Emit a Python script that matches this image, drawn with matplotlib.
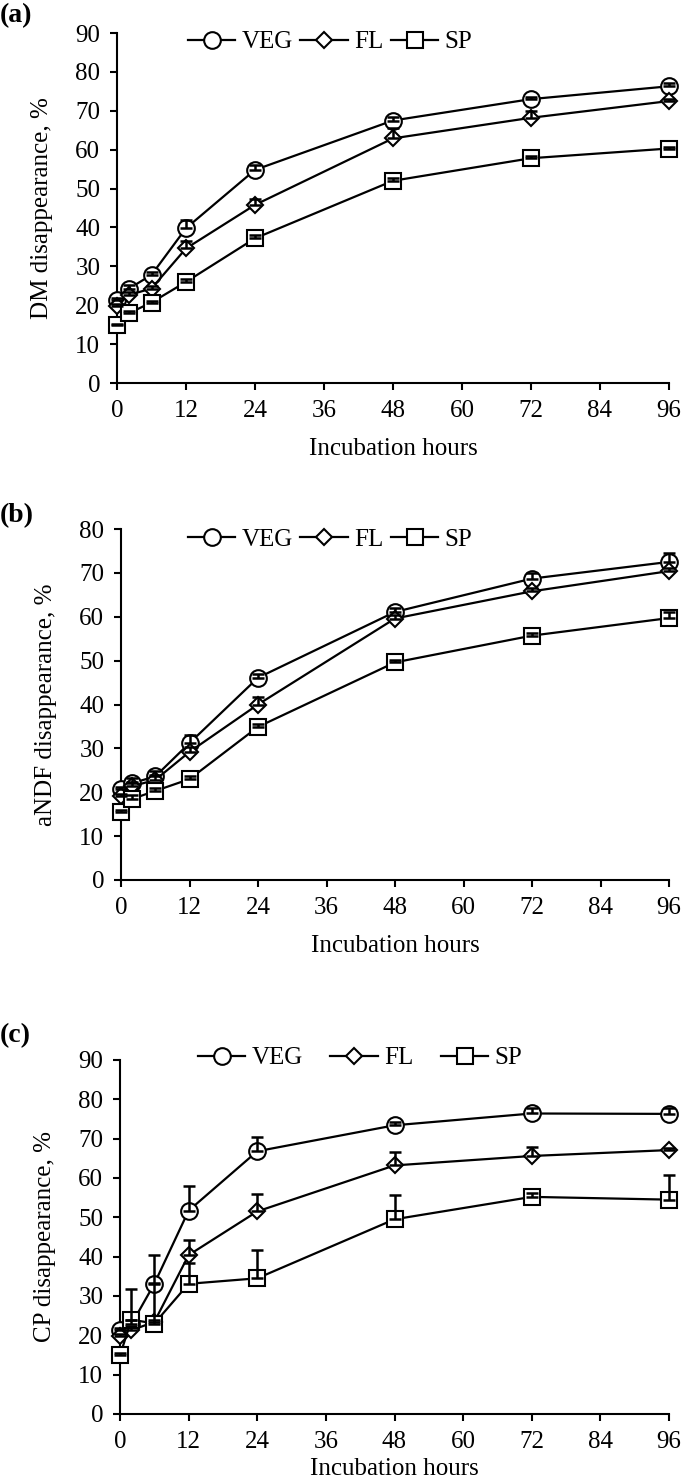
import numpy as np
import matplotlib.pyplot as plt

plt.rcParams['font.family'] = ['Liberation Serif', 'DejaVu Serif']

hours = [0, 2, 6, 12, 24, 48, 72, 96]
series_names = ['VEG', 'FL', 'SP']

# (a) DM disappearance, %
dm_veg = [21.3, 24.2, 27.8, 39.8, 54.8, 67.5, 73.0, 76.3]
dm_fl = [19.8, 22.6, 24.3, 34.6, 45.8, 62.9, 68.2, 72.5]
dm_sp = [14.8, 17.9, 20.7, 26.0, 37.2, 52.0, 57.8, 60.3]
dm_veg_err = [0.5, 1.0, 0.8, 2.0, 1.2, 0.8, 0.6, 0.8]
dm_fl_err = [0.4, 0.8, 0.6, 1.8, 1.5, 2.6, 1.8, 0.6]
dm_sp_err = [0.3, 0.5, 0.5, 0.8, 0.8, 0.8, 0.7, 0.5]

# (b) aNDF disappearance, %
ndf_veg = [20.8, 22.1, 23.6, 31.2, 46.1, 61.1, 68.7, 72.5]
ndf_fl = [19.2, 21.4, 22.8, 29.2, 40.0, 59.6, 65.8, 70.4]
ndf_sp = [15.6, 18.5, 20.3, 23.0, 34.9, 49.6, 55.7, 59.7]
ndf_veg_err = [0.5, 1.2, 1.2, 1.8, 0.8, 1.0, 1.3, 2.0]
ndf_fl_err = [0.4, 1.0, 1.2, 1.2, 1.8, 0.8, 0.8, 0.6]
ndf_sp_err = [0.3, 0.8, 0.6, 0.6, 0.6, 0.6, 0.7, 1.3]

# (c) CP disappearance, %
cp_veg = [21.3, 22.8, 33.1, 51.7, 66.8, 73.4, 76.4, 76.3]
cp_fl = [19.8, 21.3, 23.4, 40.4, 51.5, 63.2, 65.6, 67.1]
cp_sp = [14.9, 24.0, 23.0, 33.1, 34.5, 49.5, 55.2, 54.5]
cp_veg_err = [0.5, 1.0, 7.2, 6.2, 3.6, 0.8, 1.5, 1.6]
cp_fl_err = [0.5, 1.0, 9.8, 3.8, 4.4, 3.4, 2.3, 0.6]
cp_sp_err = [0.5, 7.8, 1.0, 5.4, 7.2, 6.1, 1.0, 6.3]

markers = ['o', 'D', 's']
msizes = [12, 8.5, 12]

# rect in figure fraction, legend centre (px), column spacing, xlabel pad, tag y (px)
panels = [
    ('(a)', 'DM disappearance, %', 90, [dm_veg, dm_fl, dm_sp],
     [dm_veg_err, dm_fl_err, dm_sp_err],
     [117 / 685, 1 - 383 / 1481, 552 / 685, 350 / 1481], (330, 42), 0.3, 12, 16),
    ('(b)', 'aNDF disappearance, %', 80, [ndf_veg, ndf_fl, ndf_sp],
     [ndf_veg_err, ndf_fl_err, ndf_sp_err],
     [121 / 685, 1 - 880 / 1481, 548 / 685, 351 / 1481], (330, 540), 0.3, 12, 516),
    ('(c)', 'CP disappearance, %', 90, [cp_veg, cp_fl, cp_sp],
     [cp_veg_err, cp_fl_err, cp_sp_err],
     [120 / 685, 1 - 1414 / 1481, 549 / 685, 354 / 1481], (360, 1058), 1.1, 4, 1036),
]

fig = plt.figure(figsize=(6.85, 14.81), dpi=100)

for tag, ylab, ytop, vals, errs, rect, legpos, colsp, xpad, tag_y in panels:
    ax = fig.add_axes(rect)
    for name, v, e, m, ms in zip(series_names, vals, errs, markers, msizes):
        v = np.array(v)
        e = np.array(e)
        ax.errorbar(hours, v, yerr=[np.zeros_like(e), e], fmt='none',
                    ecolor='black', elinewidth=1.8, capsize=4.5,
                    capthick=1.8, zorder=4, clip_on=False)
        ax.plot(hours, v, color='black', lw=1.6, marker=m, ms=ms,
                mfc='white', mec='black', mew=1.5, label=name,
                zorder=3, clip_on=False)
    ax.set_xlim(0, 96)
    ax.set_ylim(0, ytop)
    ax.set_xticks(range(0, 97, 12))
    ax.set_yticks(range(0, ytop + 1, 10))
    for s in ['top', 'right']:
        ax.spines[s].set_visible(False)
    for s in ['left', 'bottom']:
        ax.spines[s].set_linewidth(1.5)
    ax.tick_params(direction='out', length=5, width=1.5, labelsize=18, pad=7)
    ax.set_xlabel('Incubation hours', fontsize=18, labelpad=xpad)
    ax.set_ylabel(ylab, fontsize=18, labelpad=16)
    ax.legend(loc='center', bbox_to_anchor=(legpos[0] / 685, 1 - legpos[1] / 1481),
              bbox_transform=fig.transFigure, ncol=3, frameon=False,
              fontsize=18, handlelength=1.9, handletextpad=0.25,
              columnspacing=colsp)
    fig.text(0.0, 1 - tag_y / 1481, tag, fontsize=20,
             fontweight='bold', ha='left', va='center')

fig.savefig('out.png', dpi=100)
